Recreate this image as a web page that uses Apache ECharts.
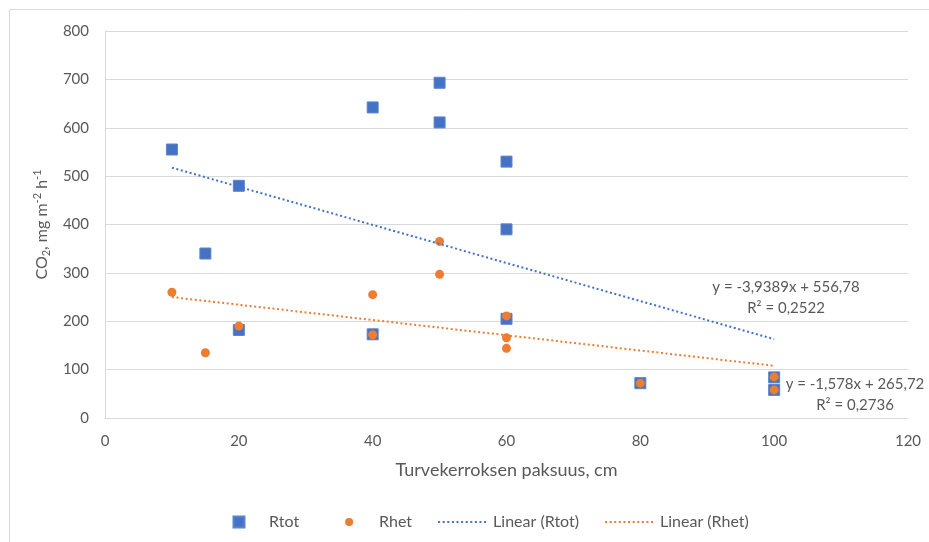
<!DOCTYPE html>
<html>
<head>
<meta charset="utf-8">
<script src="https://cdn.jsdelivr.net/npm/echarts@6/dist/echarts.min.js"></script>
<style>
  html, body { margin: 0; padding: 0; background: #fff; }
  #chart { width: 929px; height: 542px; }
</style>
</head>
<body>
<div id="chart"></div>
<script>
// Peat layer thickness (cm) against CO2 flux, total and heterotrophic respiration
const rtotX = [10, 15, 20, 20, 40, 40, 50, 50, 60, 60, 60, 80, 100, 100];
const rtotY = [555, 340, 480, 182, 642, 173, 693, 611, 530, 390, 205, 72, 84, 58];
const rhetX = [10, 15, 20, 40, 40, 50, 50, 60, 60, 60, 80, 100, 100];
const rhetY = [260, 135, 190, 255, 172, 365, 297, 211, 166, 144, 72, 85, 58];

// Linear trend coefficients as printed in the equation labels
const rtotSlope = -3.9389, rtotIntercept = 556.78, rtotR2 = 0.2522;
const rhetSlope = -1.578, rhetIntercept = 265.72, rhetR2 = 0.2736;
const trendRange = [10, 100];

const xTicks = { min: 0, max: 120, interval: 20 };
const yTicks = { min: 0, max: 800, interval: 100 };

const FONT = 'Lato, "Liberation Sans", sans-serif';
const TEXT = '#595959';
const BLUE = '#4472C4';
const ORANGE = '#ED7D31';

const pairs = (xs, ys) => xs.map((x, i) => [x, ys[i]]);
const trend = (m, b) => trendRange.map(x => [x, m * x + b]);
const fmt = (v, d) => v.toFixed(d).replace('.', ',');
const eqText = (m, b, dm, db) => 'y = ' + (m < 0 ? '-' : '') + fmt(Math.abs(m), dm) + 'x + ' + fmt(b, db);

// legend glyphs span the full 50px slot (leading moveTo points), so every
// entry takes the same room as the line samples
const squareIcon = 'path://M0,0M50,11M19.5,0H30.5V11H19.5Z';
const dotIcon = 'path://M0,0M50,11M21,5.5A4,4 0 1,1 29,5.5A4,4 0 1,1 21,5.5Z';

const chart = echarts.init(document.getElementById('chart'));
chart.setOption({
  backgroundColor: '#fff',
  animation: false,
  textStyle: { fontFamily: FONT },
  grid: { left: 105, top: 31, right: 21, bottom: 124 },
  xAxis: {
    type: 'value', min: xTicks.min, max: xTicks.max, interval: xTicks.interval,
    name: 'Turvekerroksen paksuus, cm', nameLocation: 'middle', nameGap: 43,
    nameTextStyle: { color: TEXT, fontSize: 18, fontFamily: FONT },
    axisLine: { show: true, lineStyle: { color: '#D9D9D9', width: 1 } },
    axisTick: { show: false },
    axisLabel: { color: TEXT, fontSize: 15, margin: 16, fontFamily: FONT },
    splitLine: { show: false }
  },
  yAxis: {
    type: 'value', min: yTicks.min, max: yTicks.max, interval: yTicks.interval,
    name: 'CO{sub|2}, mg m{sup|-2} h{sup|-1}', nameLocation: 'middle', nameGap: 47,
    nameTextStyle: {
      color: TEXT, fontSize: 16, fontFamily: FONT, lineHeight: 20,
      rich: {
        sub: { fontSize: 11, color: TEXT, fontFamily: FONT, verticalAlign: 'bottom' },
        sup: { fontSize: 11, color: TEXT, fontFamily: FONT, verticalAlign: 'top' }
      }
    },
    axisLine: { show: true, lineStyle: { color: '#D9D9D9', width: 1 } },
    axisTick: { show: false },
    axisLabel: { color: TEXT, fontSize: 15, margin: 16, fontFamily: FONT },
    splitLine: { show: true, lineStyle: { color: '#D9D9D9', width: 1 } }
  },
  legend: {
    left: 208, top: 509,
    itemWidth: 50, itemHeight: 11, itemGap: 25,
    textStyle: { color: TEXT, fontSize: 16, fontFamily: FONT },
    data: [
      { name: 'Rtot', icon: squareIcon },
      { name: 'Rhet', icon: dotIcon },
      { name: 'Linear (Rtot)', itemStyle: { opacity: 0 } },
      { name: 'Linear (Rhet)', itemStyle: { opacity: 0 } }
    ]
  },
  series: [
    {
      name: 'Rtot', type: 'scatter', symbol: 'rect', symbolSize: 11,
      itemStyle: { color: BLUE, opacity: 1, borderColor: '#5B84CE', borderWidth: 1 },
      data: pairs(rtotX, rtotY), z: 2
    },
    {
      name: 'Rhet', type: 'scatter', symbol: 'circle', symbolSize: 9,
      itemStyle: { color: ORANGE, opacity: 1 },
      data: pairs(rhetX, rhetY), z: 3
    },
    {
      name: 'Linear (Rtot)', type: 'line', symbol: 'none', silent: true,
      itemStyle: { color: BLUE },
      lineStyle: { color: BLUE, width: 2, type: [2, 2.6] },
      data: trend(rtotSlope, rtotIntercept), z: 4
    },
    {
      name: 'Linear (Rhet)', type: 'line', symbol: 'none', silent: true,
      itemStyle: { color: ORANGE },
      lineStyle: { color: ORANGE, width: 2, type: [2, 2.6] },
      data: trend(rhetSlope, rhetIntercept), z: 4
    }
  ],
  graphic: [
    // light chart frame (top and left edges)
    { type: 'polyline', shape: { points: [[9.5, 542], [9.5, 9.5], [929, 9.5]] },
      style: { stroke: '#D9D9D9', fill: null, lineWidth: 1 }, silent: true },
    { type: 'text', x: 786, y: 277, style: {
        text: eqText(rtotSlope, rtotIntercept, 4, 2) + '\nR² = ' + fmt(rtotR2, 4),
        fill: TEXT, font: '15px ' + FONT, align: 'center', verticalAlign: 'top', lineHeight: 21 } },
    { type: 'text', x: 855, y: 374, style: {
        text: eqText(rhetSlope, rhetIntercept, 3, 2) + '\nR² = ' + fmt(rhetR2, 4),
        fill: TEXT, font: '15px ' + FONT, align: 'center', verticalAlign: 'top', lineHeight: 21 } }
  ]
});
</script>
</body>
</html>
